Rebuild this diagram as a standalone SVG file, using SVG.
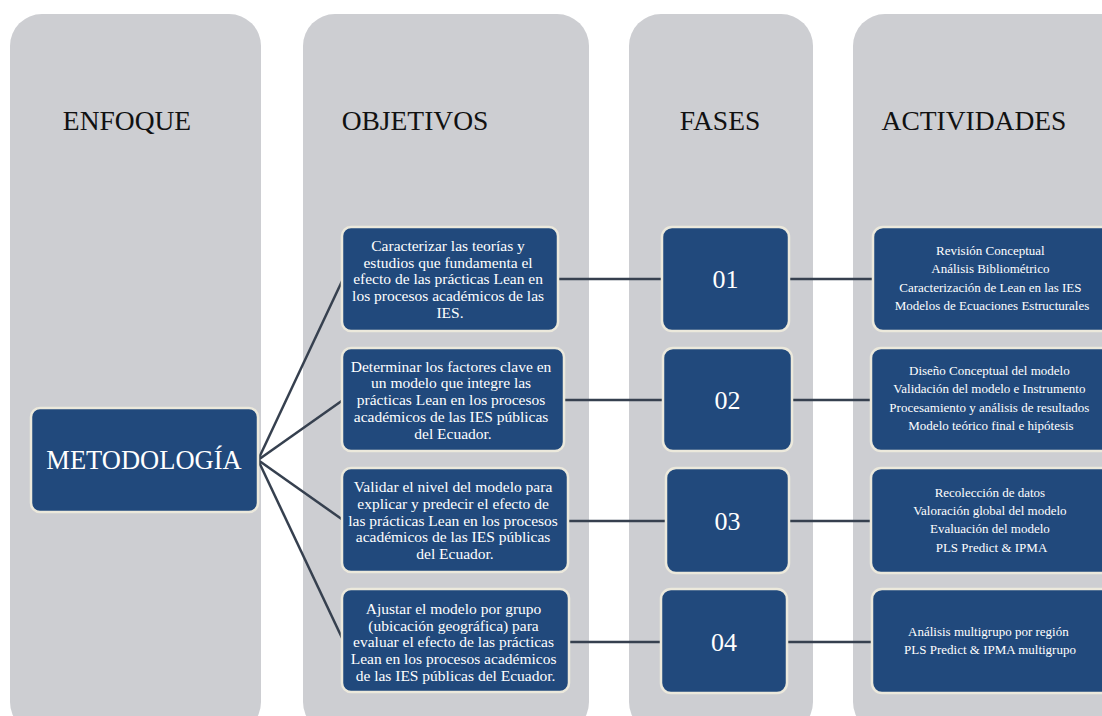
<svg xmlns="http://www.w3.org/2000/svg" width="1102" height="716" viewBox="0 0 1102 716">
  <style>
    .col { fill: #cdced2; }
    .head { font-family: "Liberation Serif", "Times New Roman", serif; font-size: 27.5px; fill: #111; text-anchor: middle; }
    .box { fill: #21497c; stroke: #ece9dc; stroke-width: 2.5; }
    .t { font-family: "Liberation Serif", "Times New Roman", serif; fill: #ffffff; text-anchor: middle; }
    .obj { font-size: 15.5px; }
    .act { font-size: 13px; }
    .num { font-size: 26px; }
    .big { font-size: 26.5px; }
    .link { stroke: #36404f; stroke-width: 2.5; fill: none; }
  </style>
  <rect width="1102" height="716" fill="#ffffff"/>

  <!-- column panels -->
  <g id="columns">
    <rect class="col" x="10" y="14" width="251" height="720" rx="32"/>
    <rect class="col" x="303" y="14" width="286" height="720" rx="32"/>
    <rect class="col" x="629" y="14" width="184" height="720" rx="32"/>
    <rect class="col" x="853" y="14" width="290" height="720" rx="32"/>
    <text class="head" x="127" y="130">ENFOQUE</text>
    <text class="head" x="415" y="130">OBJETIVOS</text>
    <text class="head" x="720" y="130">FASES</text>
    <text class="head" x="974" y="130">ACTIVIDADES</text>
  </g>

  <!-- connectors -->
  <g id="connectors">
    <line class="link" x1="258" y1="460" x2="343" y2="279"/>
    <line class="link" x1="258" y1="460" x2="343" y2="400"/>
    <line class="link" x1="258" y1="460" x2="343" y2="520"/>
    <line class="link" x1="258" y1="460" x2="343" y2="640"/>
    <line class="link" x1="558" y1="279" x2="662" y2="279"/>
    <line class="link" x1="564" y1="400" x2="663" y2="400"/>
    <line class="link" x1="568" y1="521" x2="666" y2="521"/>
    <line class="link" x1="569" y1="642" x2="661" y2="642"/>
    <line class="link" x1="789" y1="279" x2="873" y2="279"/>
    <line class="link" x1="792" y1="400" x2="871" y2="400"/>
    <line class="link" x1="789" y1="521" x2="871" y2="521"/>
    <line class="link" x1="787" y1="642" x2="872" y2="642"/>
  </g>

  <g id="metodologia">
    <rect class="box" x="31" y="408" width="227" height="104" rx="9"/>
    <text class="t big" x="144" y="469">METODOLOGÍA</text>
  </g>

  <g id="objetivo-1">
    <rect class="box" x="342" y="227" width="216" height="104" rx="9"/>
    <text class="t obj">
      <tspan x="450" y="251">Caracterizar las teorías y</tspan>
      <tspan x="450" y="267.7">estudios que fundamenta el</tspan>
      <tspan x="450" y="284.4">efecto de las prácticas Lean en</tspan>
      <tspan x="450" y="301.1">los procesos académicos de las</tspan>
      <tspan x="450" y="317.8">IES.</tspan>
    </text>
  </g>

  <g id="objetivo-2">
    <rect class="box" x="342" y="348" width="222" height="103" rx="9"/>
    <text class="t obj">
      <tspan x="453" y="371.7">Determinar los factores clave en</tspan>
      <tspan x="453" y="388.4">un modelo que integre las</tspan>
      <tspan x="453" y="405.1">prácticas Lean en los procesos</tspan>
      <tspan x="453" y="421.8">académicos de las IES públicas</tspan>
      <tspan x="453" y="438.5">del Ecuador.</tspan>
    </text>
  </g>

  <g id="objetivo-3">
    <rect class="box" x="342" y="468" width="226" height="104" rx="9"/>
    <text class="t obj">
      <tspan x="455" y="492.3">Validar el nivel del modelo para</tspan>
      <tspan x="455" y="509">explicar y predecir el efecto de</tspan>
      <tspan x="455" y="525.7">las prácticas Lean en los procesos</tspan>
      <tspan x="455" y="542.4">académicos de las IES públicas</tspan>
      <tspan x="455" y="559.1">del Ecuador.</tspan>
    </text>
  </g>

  <g id="objetivo-4">
    <rect class="box" x="342" y="589" width="227" height="103" rx="9"/>
    <text class="t obj">
      <tspan x="455.5" y="614">Ajustar el modelo por grupo</tspan>
      <tspan x="455.5" y="630.7">(ubicación geográfica) para</tspan>
      <tspan x="455.5" y="647.4">evaluar el efecto de las prácticas</tspan>
      <tspan x="455.5" y="664.1">Lean en los procesos académicos</tspan>
      <tspan x="455.5" y="680.8">de las IES públicas del Ecuador.</tspan>
    </text>
  </g>

  <g id="fase-01">
    <rect class="box" x="662" y="227" width="127" height="104" rx="10"/>
    <text class="t num" x="725.5" y="288">01</text>
  </g>
  <g id="fase-02">
    <rect class="box" x="663" y="348" width="129" height="103" rx="10"/>
    <text class="t num" x="727.5" y="409">02</text>
  </g>
  <g id="fase-03">
    <rect class="box" x="666" y="468" width="123" height="105" rx="10"/>
    <text class="t num" x="727.5" y="530">03</text>
  </g>
  <g id="fase-04">
    <rect class="box" x="661" y="589" width="126" height="104" rx="10"/>
    <text class="t num" x="724" y="651">04</text>
  </g>

  <g id="actividades-1">
    <rect class="box" x="873" y="227" width="240" height="104" rx="10"/>
    <text class="t act">
      <tspan x="992" y="255">Revisión Conceptual</tspan>
      <tspan x="992" y="273.3">Análisis Bibliométrico</tspan>
      <tspan x="992" y="291.6">Caracterización de Lean en las IES</tspan>
      <tspan x="992" y="309.9">Modelos de Ecuaciones Estructurales</tspan>
    </text>
  </g>
  <g id="actividades-2">
    <rect class="box" x="871" y="348" width="242" height="103" rx="10"/>
    <text class="t act">
      <tspan x="991" y="375">Diseño Conceptual del modelo</tspan>
      <tspan x="991" y="393.3">Validación del modelo e Instrumento</tspan>
      <tspan x="991" y="411.6">Procesamiento y análisis de resultados</tspan>
      <tspan x="991" y="429.9">Modelo teórico final e hipótesis</tspan>
    </text>
  </g>
  <g id="actividades-3">
    <rect class="box" x="871" y="468" width="242" height="105" rx="10"/>
    <text class="t act">
      <tspan x="991.5" y="496.7">Recolección de datos</tspan>
      <tspan x="991.5" y="515">Valoración global del modelo</tspan>
      <tspan x="991.5" y="533.3">Evaluación del modelo</tspan>
      <tspan x="991.5" y="551.6">PLS Predict &amp; IPMA</tspan>
    </text>
  </g>
  <g id="actividades-4">
    <rect class="box" x="872" y="589" width="241" height="104" rx="10"/>
    <text class="t act">
      <tspan x="990" y="636">Análisis multigrupo por región</tspan>
      <tspan x="990" y="654.3">PLS Predict &amp; IPMA multigrupo</tspan>
    </text>
  </g>
</svg>
